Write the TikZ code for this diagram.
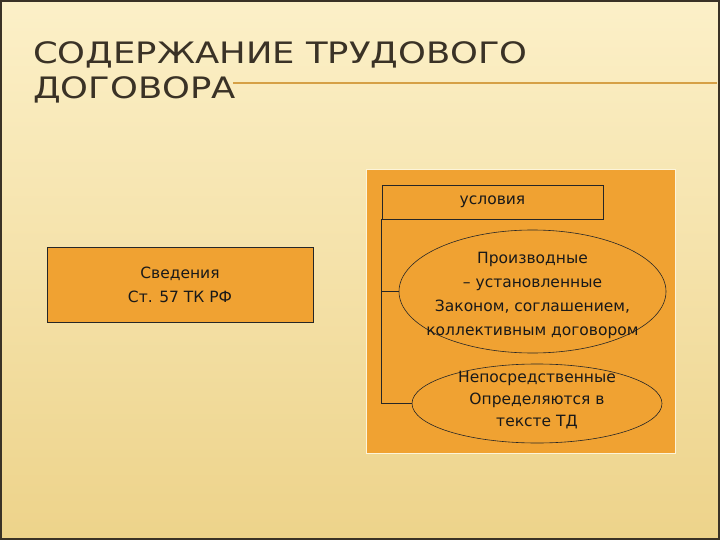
\documentclass[tikz,border=0pt]{standalone}
\usepackage{fontspec}
\setmainfont{DejaVu Sans}
\newfontfamily\titlefont[FakeStretch=1.2]{DejaVu Sans}
\usetikzlibrary{shapes.geometric}
\definecolor{paper}{HTML}{FCF0C8}
\definecolor{paperdark}{HTML}{EDD38A}
\definecolor{slab}{HTML}{F0A232}
\definecolor{ink}{HTML}{3A3226}
\definecolor{rulecol}{HTML}{D6A046}

\begin{document}
\begin{tikzpicture}[x=1pt,y=-1pt,
  box/.style={draw=black!85,line width=0.6pt,fill=slab},
  oval/.style={ellipse,draw=black!85,line width=0.6pt,fill=slab,inner sep=0pt},
  txt/.style={align=center,font=\fontsize{15.5}{24}\selectfont,text=black!90,inner sep=0pt}]
\useasboundingbox (0,0) rectangle (720,540);
\shade[top color=paper,bottom color=paperdark] (0,0) rectangle (720,540);
\draw[ink,line width=2pt] (1,1) rectangle (719,539);

\node[anchor=north west,inner sep=0pt,align=left,text=ink,font=\titlefont\fontsize{29.5}{35}\selectfont] (title) at (33,41) {СОДЕРЖАНИЕ ТРУДОВОГО\\ДОГОВОРА};
\draw[rulecol,line width=1.2pt] (233,83) -- (717,83);

\node[fill=slab,draw=paper!70!white,line width=1pt,minimum width=309,minimum height=284,inner sep=0pt,anchor=north west] (panel) at (366,169) {};

\node[box,txt,minimum width=221,minimum height=34] (usl) at (492.5,202) {условия};
\node[oval,minimum width=267,minimum height=123,label={[txt,yshift=-4]center:{Производные\\ – установленные\\Законом, соглашением,\\коллективным договором}}] (proiz) at (532.5,291.5) {};
\node[oval,minimum width=250,minimum height=79,label={[txt,font=\fontsize{15.5}{22}\selectfont,yshift=3]center:{Непосредственные\\Определяются в\\тексте ТД}}] (neposr) at (537,403.5) {};

\draw[black!85,line width=0.6pt] (usl.south west) |- (proiz.west);
\draw[black!85,line width=0.6pt] (usl.south west) |- (neposr.west);

\node[box,txt,minimum width=266,minimum height=75] (sved) at (180,284.5) {Сведения\\Ст. 57 ТК РФ};
\end{tikzpicture}
\end{document}
